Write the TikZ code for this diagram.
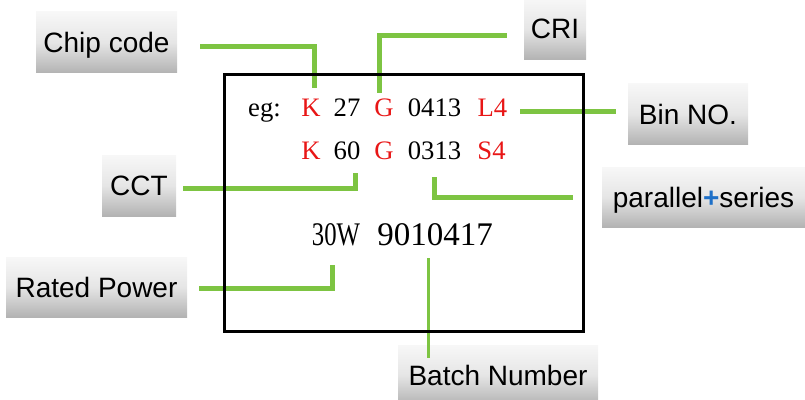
\documentclass[tikz,border=0pt]{standalone}
\usepackage{fontspec}
\setmainfont{Liberation Serif}
\newfontfamily\lblfont{Liberation Sans}
\definecolor{lgreen}{RGB}{125,196,66}
\definecolor{tred}{RGB}{232,22,22}
\definecolor{plusblue}{RGB}{30,112,200}
\tikzset{
  lbl/.style={rectangle, inner sep=0pt, top color=white!97!black, bottom color=black!30,
    middle color=white!90!black, font=\lblfont\fontsize{21pt}{24pt}\selectfont,
    text height=15pt, text depth=0pt},
  gl/.style={draw=lgreen, line width=3.75pt, line join=miter},
  code/.style={anchor=base, inner sep=0pt, font=\fontsize{20pt}{22pt}\selectfont},
  big/.style={anchor=base, inner sep=0pt, font=\fontsize{24.75pt}{28pt}\selectfont},
  rd/.style={text=tred}
}
\begin{document}
\begin{tikzpicture}[x=0.75pt,y=-0.75pt]
\useasboundingbox (0,0) rectangle (805,399);
% labels
\node[lbl, minimum width=105.75pt, minimum height=45.75pt] (chip) at (106.5,42.5) {Chip code};
\node[lbl, minimum width=46.5pt, minimum height=46pt] (cri) at (555,29) {CRI};
\node[lbl, minimum width=90pt, minimum height=45.75pt] (bin) at (688,114) {Bin NO.};
\node[lbl, minimum width=55.5pt, minimum height=45.75pt] (cct) at (139,185.5) {CCT};
\node[lbl, minimum width=152.25pt, minimum height=45pt] (par) at (703.5,197) {parallel{\color{plusblue}\bfseries+}series};
\node[lbl, minimum width=135.75pt, minimum height=45pt] (rated) at (96.5,287) {Rated Power};
\node[lbl, minimum width=150pt, minimum height=45pt] (batch) at (498,375) {Batch Number};
% codes
\node[code] (eg) at (264.5,117) {eg:};
\node[code, rd] (k1) at (311,117) {K};
\node[code] (n27) at (347,117) {27};
\node[code, rd] (g1) at (384,117) {G};
\node[code] (n0413) at (434.5,117) {0413};
\node[code, rd] (l4) at (492.5,117) {L4};
\node[code, rd] (k2) at (311,159) {K};
\node[code] (n60) at (347,159) {60};
\node[code, rd] (g2) at (384,159) {G};
\node[code] (n0313) at (434.5,159) {0313};
\node[code, rd] (s4) at (491.5,159) {S4};
\node[big] (pw) at (336,245) {\scalebox{0.75}[1]{30W}};
\node[big] (bn) at (435,245) {9010417};
% connector ends
\coordinate (chipA) at (200,47);
\coordinate (chipB) at (314,88);
\coordinate (criA) at (379,93);
\coordinate (criB) at (507,36);
\coordinate (binA) at (520,112);
\coordinate (binB) at (616,112);
\coordinate (cctA) at (183,188);
\coordinate (cctB) at (355,173);
\coordinate (parA) at (434,177);
\coordinate (parB) at (573,197);
\coordinate (ratA) at (199,288);
\coordinate (ratB) at (332,265);
\coordinate (batA) at (428,258);
\coordinate (batB) at (428,358);
% connectors
\draw[gl] (chipA) -| (chipB);
\draw[gl] (criA) |- (criB);
\draw[gl] (binA) -- (binB);
\draw[gl] (cctA) -| (cctB);
\draw[gl] (parA) |- (parB);
\draw[gl] (ratA) -| (ratB);
\draw[gl, line width=2.25pt] (batA) -- (batB);
% plate
\node[draw=black, line width=2.25pt, inner sep=0pt, minimum width=269.25pt, minimum height=192pt] (plate) at (403.5,203) {};
\end{tikzpicture}
\end{document}
